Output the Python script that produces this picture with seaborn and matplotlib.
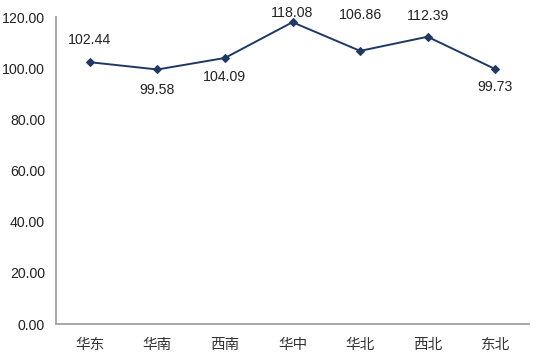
import matplotlib
matplotlib.use("Agg")
import matplotlib.pyplot as plt
import seaborn as sns
import numpy as np

categories = ["华东", "华南", "西南", "华中", "华北", "西北", "东北"]
values = [102.44, 99.58, 104.09, 118.08, 106.86, 112.39, 99.73]
yticks = [0, 20, 40, 60, 80, 100, 120]

# label offsets in pixels (positive = above the point) -- style only
label_offsets_px = [22, -21, -19, 9, 36, 21, -18]

sns.set_theme(style="white")
plt.rcParams['font.family'] = ['Noto Sans CJK SC', 'DejaVu Sans']

fig = plt.figure(figsize=(5.54, 3.55), dpi=100)
L, R, T, B = 56, 529, 17.3, 324
ax = fig.add_axes([L/554, 1-B/355, (R-L)/554, (B-T)/355])

xs = np.arange(len(categories))
sns.lineplot(x=xs, y=values, ax=ax, color="#1F3864", linewidth=1.4,
             marker="D", markersize=4, markeredgecolor="#1F3864")

num_font = ['Liberation Sans', 'DejaVu Sans']
for x, v, off in zip(xs, values, label_offsets_px):
    ax.annotate(f"{v:.2f}", (x, v), xytext=(0, off * 0.72), textcoords="offset points",
                ha="center", va="center", fontsize=10.2, color="#222222",
                family=num_font, annotation_clip=False)

ax.set_xlim(-0.5, len(categories) - 0.5)
ax.set_ylim(0, 120)
ax.set_yticks(yticks)
ax.set_yticklabels([f"{t:.2f}" for t in yticks], fontsize=10.2, family=num_font, color="#222222")
ax.set_xticks(np.arange(-0.5, len(categories), 1.0))
ax.set_xticklabels([])
ax.set_xticks(xs, minor=True)
ax.set_xticklabels(categories, minor=True, fontsize=10.5, color="#333333")
ax.tick_params(axis="x", which="major", direction="in", length=4, color="#999999", width=1)
ax.tick_params(axis="x", which="minor", length=0, pad=10)
ax.tick_params(axis="y", direction="in", length=4, color="#999999", width=1, pad=8)

for s in ["top", "right"]:
    ax.spines[s].set_visible(False)
for s in ["left", "bottom"]:
    ax.spines[s].set_color("#A0A0A0")
    ax.spines[s].set_linewidth(1.3)
ax.set_xlabel("")
ax.set_ylabel("")

fig.savefig("out.png", dpi=100)
